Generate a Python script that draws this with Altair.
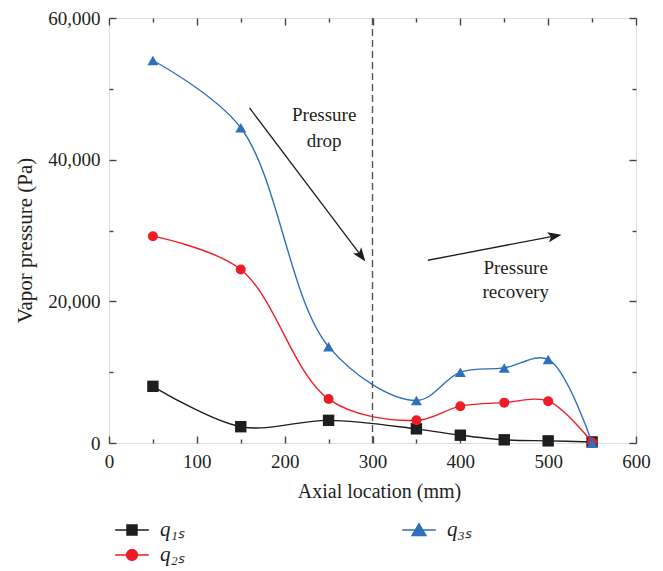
import math
import altair as alt
import pandas as pd

# ---------------- data ----------------
x_mm = [50, 150, 250, 350, 400, 450, 500, 550]
q1s = [8000, 2300, 3200, 2000, 1100, 450, 300, 150]
q2s = [29200, 24500, 6200, 3200, 5200, 5700, 5900, 100]
q3s = [54000, 44500, 13600, 6000, 10000, 10600, 11800, 0]
series_names = ["q\u2081\u209b", "q\u2082\u209b", "q\u2083\u209b"]
legend_order = list(series_names)
colors = ["#1e1e1e", "#ee1c25", "#2f6fbd"]

x_ticks_major = [0, 100, 200, 300, 400, 500, 600]
x_ticks_minor = [50, 150, 250, 350, 450, 550]
y_ticks_major = [0, 20000, 40000, 60000]
y_ticks_minor = [10000, 30000, 50000]

divider_x = [300]
arrow_names = ["drop", "recovery"]
arrow_start_x = [160, 363]
arrow_start_y = [47300, 25800]
arrow_tip_x = [291.5, 514.6]
arrow_tip_y = [25700, 29400]

label_text = ["Pressure", "drop", "Pressure", "recovery"]
label_x = [245, 245, 463, 463]
label_y = [46300, 42700, 24700, 21350]

# ---------------- layout ----------------
W, H = 527, 425
XPX = W / 600.0
YPX = H / 60000.0
FONT = "Liberation Serif"
AX = "#444444"
TXT = "#231f20"

rows = []
for name, vals in zip(series_names, [q1s, q2s, q3s]):
    for xv, yv in zip(x_mm, vals):
        rows.append({"series": name, "x": xv, "v": yv})
df = pd.DataFrame(rows)

xs = alt.Scale(domain=[0, 600], nice=False, zero=False)
ys = alt.Scale(domain=[0, 60000], nice=False, zero=False)

main_x_axis = alt.Axis(values=x_ticks_major, ticks=False, domain=False, grid=False,
                       labelFlush=False, labelPadding=9, labelFontSize=19, labelFont=FONT,
                       labelColor=TXT, title="Axial location (mm)", titleFont=FONT,
                       titleFontSize=20, titleFontWeight="normal", titleColor=TXT,
                       titlePadding=10, titleX=270)
main_y_axis = alt.Axis(values=y_ticks_major, format=",d", ticks=False, domain=False, grid=False,
                       labelFlush=False, labelPadding=9, labelFontSize=19, labelFont=FONT,
                       labelColor=TXT, title="Vapor pressure (Pa)", titleFont=FONT,
                       titleFontSize=21, titleFontWeight="normal", titleColor=TXT,
                       titlePadding=12, titleY=222)

series_layers = []
for i, (name, col, shp, sz) in enumerate(zip(series_names, colors,
                                             ["square", "circle", "triangle-up"], [130, 100, 120])):
    base = alt.Chart(df).transform_filter(alt.datum.series == name)
    if i == 0:
        xe = alt.X("x:Q", scale=xs, axis=main_x_axis)
        ye = alt.Y("v:Q", scale=ys, axis=main_y_axis)
    else:
        xe = alt.X("x:Q", scale=xs, axis=None)
        ye = alt.Y("v:Q", scale=ys, axis=None)
    series_layers.append(
        base.mark_line(interpolate="catmull-rom", strokeWidth=1.4, color=col).encode(x=xe, y=ye)
    )
    series_layers.append(
        base.mark_point(shape=shp, filled=True, size=sz, opacity=1, color=col).encode(
            x=alt.X("x:Q", scale=xs, axis=None), y=alt.Y("v:Q", scale=ys, axis=None))
    )

rule = alt.Chart(pd.DataFrame({"x": divider_x})).mark_rule(
    strokeDash=[7, 4], color="#555555", strokeWidth=1.4
).encode(x=alt.X("x:Q", scale=xs, axis=None))

# arrows
arr_rows, head_rows = [], []
for n, sx, sy, tx, ty in zip(arrow_names, arrow_start_x, arrow_start_y, arrow_tip_x, arrow_tip_y):
    dx = (tx - sx) * XPX
    dy = -(ty - sy) * YPX
    L = math.hypot(dx, dy)
    ux, uy = dx / L, dy / L
    back = 7
    cx = tx - back * ux / XPX
    cy = ty + back * uy / YPX
    ang = math.degrees(math.atan2(ux, -uy)) % 360
    arr_rows.append({"id": n, "o": 0, "x": sx, "v": sy})
    arr_rows.append({"id": n, "o": 1, "x": cx, "v": cy})
    head_rows.append({"id": n, "x": cx, "v": cy, "ang": ang})
arr_df = pd.DataFrame(arr_rows)

arrow_lines = alt.Chart(arr_df).mark_line(color="#1e1e1e", strokeWidth=1.3).encode(
    x=alt.X("x:Q", scale=xs, axis=None),
    y=alt.Y("v:Q", scale=ys, axis=None),
    detail="id:N",
    order="o:Q",
)
head_layers = []
for hr in head_rows:
    head_layers.append(
        alt.Chart(pd.DataFrame([hr])).mark_point(
            shape="M0,-1.1L0.75,0.9L0,0.45L-0.75,0.9Z", filled=True, size=190,
            color="#1e1e1e", opacity=1, angle=round(hr["ang"], 1)
        ).encode(x=alt.X("x:Q", scale=xs, axis=None), y=alt.Y("v:Q", scale=ys, axis=None))
    )

texts = alt.Chart(pd.DataFrame({"t": label_text, "x": label_x, "v": label_y})).mark_text(
    font=FONT, fontSize=19, color=TXT, align="center", baseline="middle"
).encode(x=alt.X("x:Q", scale=xs, axis=None), y=alt.Y("v:Q", scale=ys, axis=None), text="t:N")

# inward tick axes
def tick_layer(xvals, xorient, yvals, yorient, size):
    return alt.Chart(df).transform_filter("false").mark_point().encode(
        x=alt.X("x:Q", scale=xs, axis=alt.Axis(orient=xorient, offset=-H, values=xvals, labels=False,
                                                domain=False, grid=False, tickSize=size,
                                                tickColor=AX, tickWidth=1.4, title=None)),
        y=alt.Y("v:Q", scale=ys, axis=alt.Axis(orient=yorient, offset=-W, values=yvals, labels=False,
                                                domain=False, grid=False, tickSize=size,
                                                tickColor=AX, tickWidth=1.4, title=None)),
    )

ticks = [
    tick_layer(x_ticks_major, "top", y_ticks_major, "right", 7),
    tick_layer(x_ticks_minor, "top", y_ticks_minor, "right", 4),
    tick_layer(x_ticks_major, "bottom", y_ticks_major, "left", 7),
    tick_layer(x_ticks_minor, "bottom", y_ticks_minor, "left", 4),
]

# legend-only layer
leg_paths = [
    "M-1.2,0H1.2M-0.36,-0.36H0.36V0.36H-0.36Z",
    "M-1.2,0H1.2M-0.39,0A0.39,0.39 0 1,0 0.39,0A0.39,0.39 0 1,0 -0.39,0Z",
    "M-1.2,0H1.2M0,-0.45L0.5,0.4L-0.5,0.4Z",
]
leg_colors = dict(zip(series_names, colors))
leg_shapes = dict(zip(series_names, leg_paths))
legend_def = alt.Legend(orient="none", legendX=8, legendY=497, columns=2, columnPadding=214,
                        rowPadding=0, title=None, symbolSize=784, symbolStrokeWidth=1.4,
                        labelFont=FONT, labelFontSize=21, labelFontStyle="italic",
                        labelColor=TXT, labelOffset=13, values=legend_order)
legend_layer = alt.Chart(df).transform_filter("false").mark_point(filled=True, opacity=1).encode(
    x=alt.X("x:Q", scale=xs, axis=None),
    y=alt.Y("v:Q", scale=ys, axis=None),
    fill=alt.Fill("series:N", scale=alt.Scale(domain=legend_order,
                                              range=[leg_colors[s] for s in legend_order]),
                  legend=legend_def),
    stroke=alt.Stroke("series:N", scale=alt.Scale(domain=legend_order,
                                                  range=[leg_colors[s] for s in legend_order]),
                      legend=legend_def),
    shape=alt.Shape("series:N", scale=alt.Scale(domain=legend_order,
                                                range=[leg_shapes[s] for s in legend_order]),
                    legend=legend_def),
)

chart = alt.layer(
    *series_layers, rule, arrow_lines, *head_layers, texts, *ticks, legend_layer
).resolve_axis(x="independent", y="independent").properties(
    width=W, height=H,
    autosize=alt.AutoSizeParams(type="none"),
    padding={"left": 101, "top": 10, "right": 19, "bottom": 128},
).configure_view(stroke=AX, strokeWidth=1.5).configure(background="white")

chart.save("out.html", embed_options={"renderer": "svg", "actions": False})
